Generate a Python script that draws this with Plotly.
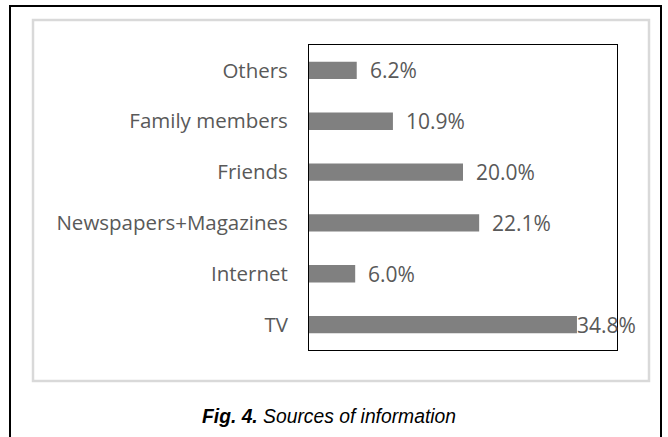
import plotly.graph_objects as go

categories = ["TV", "Internet", "Newspapers+Magazines", "Friends", "Family members", "Others"]
values = [34.8, 6.0, 22.1, 20.0, 10.9, 6.2]
labels = ["34.8%", "6.0%", "22.1%", "20.0%", "10.9%", "6.2%"]

W, H = 668, 437
L, R, T, B = 309, 617, 45, 350

def px(x):
    return (x - L) / (R - L)

def py(y):
    return (B - y) / (B - T)

fig = go.Figure()
fig.add_trace(go.Bar(
    y=categories, x=values, orientation="h",
    marker=dict(color="#808080", line=dict(width=0)),
    width=0.34, hoverinfo="skip",
))

for c, v, t in zip(categories, values, labels):
    fig.add_annotation(
        x=v, y=c, text=t, showarrow=False, xanchor="left",
        xshift=(-2 if v > 30 else 11),
        font=dict(family="Open Sans", size=21, color="#595959"),
    )

fig.update_layout(
    width=W, height=H,
    margin=dict(l=L, r=W - R, t=T, b=H - B),
    paper_bgcolor="white", plot_bgcolor="white",
    showlegend=False,
    xaxis=dict(range=[0, 40], showticklabels=False, showgrid=False, zeroline=False,
               showline=True, mirror=True, linecolor="black", linewidth=1, ticks=""),
    yaxis=dict(showgrid=False, zeroline=False, showline=True, mirror=True,
               linecolor="black", linewidth=1, ticks="outside", ticklen=16,
               tickcolor="rgba(0,0,0,0)",
               tickfont=dict(family="Open Sans", size=20.5, color="#595959")),
    shapes=[
        dict(type="rect", xref="paper", yref="paper",
             x0=px(33), x1=px(649), y0=py(381), y1=py(20),
             line=dict(color="#d9d9d9", width=2.5), layer="below"),
        dict(type="rect", xref="paper", yref="paper",
             x0=px(10), x1=px(661), y0=py(450), y1=py(6),
             line=dict(color="black", width=2), layer="below"),
    ],
    annotations=list(fig.layout.annotations) + [
        dict(xref="paper", yref="paper", x=px(329), y=py(416),
             text="<b><i>Fig. 4.</i></b><i> Sources of information</i>",
             showarrow=False, xanchor="center", yanchor="middle",
             font=dict(family="Liberation Sans", size=19.3, color="black")),
    ],
)

fig.write_html("out.html")
